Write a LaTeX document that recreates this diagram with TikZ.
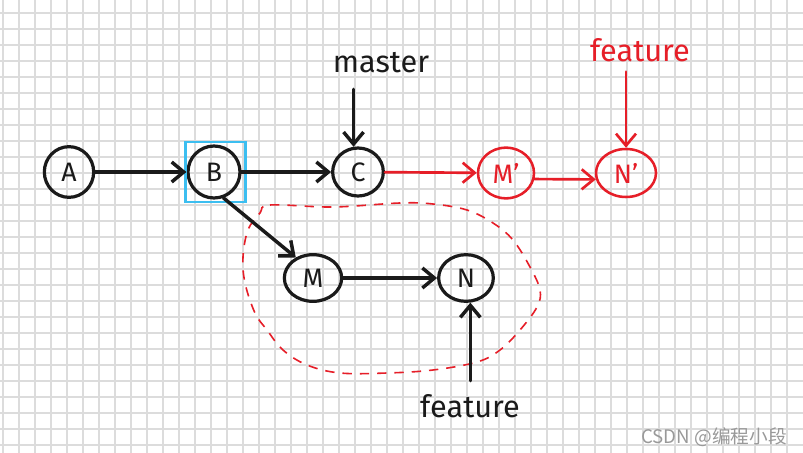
\documentclass[tikz,border=0pt]{standalone}
\usepackage{fontspec}
\setmainfont{Fira Sans}
\newfontfamily\cjkfont{Noto Sans CJK SC}
\usetikzlibrary{shapes.geometric,arrows.meta}
\definecolor{inkred}{RGB}{230,30,40}
\definecolor{inkblack}{RGB}{26,26,26}
\definecolor{gridgray}{RGB}{220,220,220}
\definecolor{selblue}{RGB}{60,190,240}

\begin{document}
\begin{tikzpicture}[x=0.75pt,y=0.75pt,yscale=-1,xscale=1,
    gridline/.style={color=gridgray, line width=1.5pt},
    commit/.style={ellipse, draw=inkblack, line width=2.4pt, inner sep=0pt, text=inkblack, font=\fontsize{20}{24}\selectfont},
    newcommit/.style={commit, draw=inkred, text=inkred, line width=1.9pt},
    arr/.style={draw=inkblack, line width=2.6pt, line cap=round, line join=round, -{Straight Barb[length=9pt,width=15pt]}},
    redarr/.style={arr, draw=inkred, line width=2pt},
    branch/.style={inner sep=0.75pt, text=inkblack, font=\fontsize{23}{27}\selectfont},
    selbox/.style={rectangle, draw=selblue, line width=2pt, inner sep=0pt},
    blob/.style={draw=inkred, line width=1.2pt, dash pattern={on 7pt off 6pt}}]
        \useasboundingbox (0,0) rectangle (803,453);
        \fill[white] (0,0) rectangle (803,453);
        % Grid paper
        \foreach \gx in {0,...,49}
            \draw[gridline] ({3.3+16*\gx},0) -- ({3.3+16*\gx},453);
        \foreach \gy in {0,...,27}
            \draw[gridline] (0,{13.3+16*\gy}) -- (803,{13.3+16*\gy});

        %Shape: dashed group
        \draw[blob] plot[smooth cycle, tension=0.6] coordinates {(260,213) (270,205) (333,207) (400,203) (433,204) (467,210) (493,223) (513,240) (530,267) (540,290) (537,307) (520,330) (500,350) (477,362) (433,370) (387,373) (340,373) (307,365) (283,350) (267,330) (255,313) (245,283) (243,257) (248,230)};

        % Commits
        \node[commit, minimum width=37pt, minimum height=38pt] (A) at (69,172) {A};
        \node[commit, minimum width=39pt, minimum height=39pt] (B) at (214,172) {B};
        \node[selbox, minimum size=45pt] (Bsel) at (215.5,172) {};
        \node[commit, minimum width=38pt, minimum height=36pt] (C) at (358,172) {C};
        \node[commit, minimum width=43pt, minimum height=35pt] (M) at (313,278) {M};
        \node[commit, minimum width=41pt, minimum height=35pt] (N) at (466,278) {N};
        \node[newcommit, minimum width=42pt, minimum height=38pt] (Mp) at (506,173) {M'};
        \node[newcommit, minimum width=45pt, minimum height=36pt] (Np) at (626,173) {N'};

        % Text Node
        \node[branch, anchor=base] (master) at (381,73) {master};
        % Text Node
        \node[branch, anchor=base, text=inkred] (featnew) at (640,62) {feature};
        % Text Node
        \node[branch, anchor=base] (featold) at (470,417) {feature};

        %Straight Lines
        \draw[arr] (A) -- (B);
        \draw[arr] (B) -- (C);
        \draw[arr] (B.-70) -- (M.130);
        \draw[arr] (M) -- (N);
        \draw[redarr] (C) -- (Mp);
        \draw[redarr] (Mp.-12) -- (Np.192);
        %Branch pointers
        \draw[arr, shorten <=11pt] (master.south -| C.100) -- (C.100);
        \draw[redarr, shorten <=6pt] (featnew.south -| Np.north) -- (Np.north);
        \draw[arr, shorten <=9pt] (featold.north -| N.-80) -- (N.-80);

        % Text Node
        \node[anchor=base east, inner sep=0pt, text=black!40, font=\cjkfont\fontsize{14}{16}\selectfont] (mark) at (787,443) {CSDN @编程小段};
\end{tikzpicture}
\end{document}
